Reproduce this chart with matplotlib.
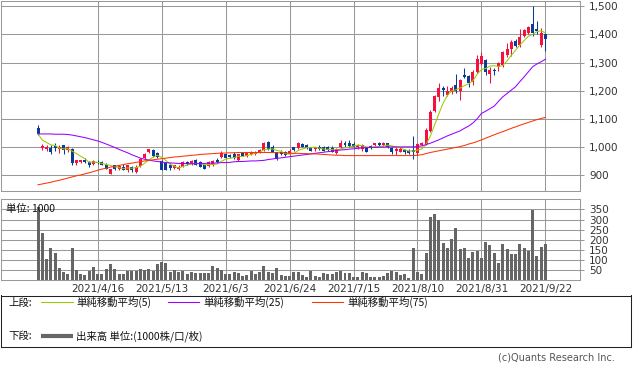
import matplotlib
matplotlib.use("Agg")
import matplotlib.pyplot as plt
import numpy as np
import pandas as pd
from matplotlib.ticker import FuncFormatter, FixedLocator

# ---------------- data ----------------
opens = [1067, 996, 994, 996, 1002, 993, 1005, 989, 993, 942,
         946, 954, 945, 939, 947, 947, 937, 905, 934, 922,
         930, 918, 928, 909, 933, 960, 982, 989, 978, 950,
         942, 934, 924, 922, 930, 947, 939, 954, 946, 935,
         933, 936, 952, 964, 973, 972, 976, 952, 978, 966,
         975, 975, 980, 989, 1018, 1001, 981, 983, 983, 975,
         998, 995, 1009, 1006, 998, 991, 1001, 999, 998, 996,
         978, 998, 1013, 1013, 1009, 999, 994, 996, 1004, 1006,
         1013, 1006, 1013, 996, 985, 983, 989, 987, 989, 978,
         1006, 1011, 1058, 1128, 1178, 1210, 1186, 1195, 1222, 1200,
         1255, 1252, 1232, 1267, 1296, 1308, 1261, 1273, 1285, 1291,
         1326, 1350, 1378, 1362, 1394, 1405, 1438, 1421, 1362, 1403]
highs = [1079, 1011, 1008, 1005, 1014, 1008, 1008, 1002, 996, 955,
         955, 961, 948, 952, 953, 950, 942, 923, 936, 935,
         940, 937, 933, 935, 959, 978, 994, 992, 982, 954,
         944, 942, 937, 934, 949, 949, 954, 956, 949, 937,
         948, 952, 961, 984, 976, 975, 980, 975, 980, 983,
         985, 985, 994, 1019, 1020, 1005, 983, 988, 987, 991,
         1001, 1017, 1013, 1009, 1001, 1001, 1005, 1003, 1002, 1004,
         995, 1025, 1020, 1025, 1019, 1011, 1011, 1001, 1007, 1015,
         1018, 1019, 1015, 1000, 1001, 1001, 992, 992, 1037, 1015,
         1016, 1066, 1131, 1183, 1226, 1217, 1215, 1218, 1260, 1242,
         1280, 1256, 1272, 1326, 1338, 1314, 1285, 1279, 1303, 1340,
         1370, 1382, 1384, 1420, 1420, 1430, 1500, 1448, 1424, 1405]
lows = [1041, 988, 987, 975, 987, 979, 976, 981, 937, 937,
        943, 942, 930, 936, 939, 935, 921, 902, 918, 916,
        916, 912, 909, 907, 930, 956, 978, 963, 960, 916,
        916, 918, 921, 916, 928, 937, 936, 935, 927, 921,
        930, 933, 942, 960, 959, 961, 957, 950, 966, 963,
        972, 972, 978, 987, 989, 980, 954, 972, 968, 970,
        986, 993, 998, 993, 984, 987, 990, 985, 986, 980,
        973, 995, 1001, 1001, 998, 994, 987, 980, 992, 1004,
        1004, 1004, 995, 973, 970, 980, 976, 975, 956, 972,
        1003, 1007, 1054, 1125, 1163, 1180, 1180, 1188, 1190, 1167,
        1245, 1214, 1222, 1264, 1290, 1255, 1228, 1255, 1270, 1284,
        1320, 1322, 1355, 1355, 1390, 1400, 1393, 1403, 1356, 1342]
closes = [1046, 1002, 999, 982, 996, 1001, 988, 999, 941, 952,
          953, 945, 934, 948, 943, 937, 923, 921, 921, 931,
          918, 934, 916, 930, 956, 974, 992, 966, 963, 918,
          918, 924, 934, 930, 946, 940, 951, 937, 930, 923,
          945, 949, 947, 978, 961, 963, 961, 973, 968, 981,
          982, 983, 989, 1015, 993, 983, 956, 975, 972, 987,
          989, 1013, 1001, 996, 987, 998, 994, 987, 989, 983,
          991, 1013, 1006, 1004, 1001, 1007, 1005, 983, 996, 1013,
          1008, 1015, 999, 982, 993, 994, 980, 978, 980, 1011,
          1013, 1060, 1125, 1180, 1208, 1203, 1198, 1210, 1198, 1238,
          1248, 1228, 1267, 1311, 1322, 1267, 1273, 1270, 1299, 1338,
          1350, 1373, 1360, 1391, 1417, 1427, 1405, 1411, 1405, 1383]
volume = [362, 236, 105, 159, 134, 61, 43, 31, 159, 49,
          31, 26, 47, 65, 31, 31, 56, 80, 56, 31,
          31, 47, 47, 47, 56, 51, 56, 47, 80, 92,
          87, 43, 49, 43, 47, 31, 43, 34, 34, 36,
          36, 72, 62, 49, 31, 33, 39, 36, 23, 25,
          46, 29, 43, 72, 43, 38, 62, 26, 21, 23,
          41, 41, 26, 18, 46, 23, 16, 36, 31, 31,
          41, 46, 36, 36, 18, 18, 41, 36, 18, 18,
          18, 23, 36, 46, 41, 26, 31, 11, 159, 41,
          31, 134, 311, 326, 296, 183, 159, 203, 257, 154,
          159, 110, 139, 144, 110, 188, 173, 134, 85, 178,
          154, 129, 129, 178, 159, 144, 349, 119, 164, 178]
ma25 = [1046, 1046, 1046, 1046, 1045, 1045, 1045, 1044, 1042, 1039,
        1036, 1033, 1029, 1025, 1021, 1016, 1010, 1004, 998, 991,
        985, 979, 972, 966, 960, 956, 953, 950, 948, 946,
        944, 943, 942, 941, 941, 940, 940, 940, 941, 941,
        942, 942, 943, 944, 944, 945, 947, 948, 948, 949,
        950, 950, 951, 952, 955, 957, 959, 961, 963, 965,
        967, 969, 971, 973, 975, 977, 979, 981, 983, 985,
        987, 989, 990, 992, 993, 995, 996, 997, 998, 998,
        999, 999, 1000, 1000, 1000, 1000, 1000, 1000, 1000, 1001,
        1004, 1008, 1013, 1019, 1025, 1032, 1039, 1045, 1051, 1057,
        1066, 1074, 1085, 1100, 1119, 1127, 1136, 1145, 1162, 1178,
        1190, 1202, 1214, 1232, 1249, 1267, 1285, 1295, 1303, 1312]
ma75 = [865, 868, 871, 874, 878, 881, 885, 889, 893, 897,
        900, 904, 908, 912, 917, 921, 924, 928, 931, 934,
        937, 940, 942, 945, 947, 950, 952, 954, 956, 958,
        960, 962, 964, 965, 967, 968, 970, 971, 973, 974,
        975, 976, 977, 978, 978, 979, 979, 980, 980, 980,
        980, 980, 980, 980, 980, 980, 979, 979, 978, 978,
        977, 977, 976, 976, 975, 975, 974, 973, 972, 971,
        970, 970, 969, 969, 969, 969, 969, 969, 969, 969,
        969, 969, 969, 969, 969, 969, 969, 969, 969, 970,
        972, 976, 980, 983, 986, 989, 992, 995, 998, 1001,
        1005, 1010, 1014, 1019, 1025, 1031, 1037, 1043, 1049, 1054,
        1060, 1066, 1071, 1077, 1082, 1087, 1092, 1097, 1101, 1105]
date_labels = ["2021/4/16", "2021/5/13", "2021/6/3", "2021/6/24",
               "2021/7/15", "2021/8/10", "2021/8/31", "2021/9/22"]
date_bar_index = [14, 29, 44, 59, 74, 89, 104, 119]
price_ticks = [900, 1000, 1100, 1200, 1300, 1400, 1500]
volume_ticks = [50, 100, 150, 200, 250, 300, 350]

# ---------------- styling ----------------
W, H = 633, 371
UP = "#f5113f"
DOWN = "#0a3a9a"
C_MA5 = "#99cc00"
C_MA25 = "#9900ff"
C_MA75 = "#ff3300"
GRID = "#999999"
TXT = "#333333"
CJK = ["Noto Sans CJK JP", "DejaVu Sans"]
FS = 7.5
LW = 0.75  # ~1 px

plt.rcParams['font.family'] = ['DejaVu Sans', 'Noto Sans CJK JP']

df = pd.DataFrame({"open": opens, "high": highs, "low": lows,
                   "close": closes, "volume": volume,
                   "ma25": ma25, "ma75": ma75})
df["ma5"] = df["close"].rolling(5, min_periods=1).mean()
x = np.arange(len(df))

fig = plt.figure(figsize=(W / 100, H / 100), dpi=100)
fig.patch.set_facecolor("white")

def fx(px):
    return px / W

def fy(py):
    return 1 - py / H

ax = fig.add_axes([fx(0.5), fy(190.7), fx(579), fy(0.5) - fy(190.7)])
axv = fig.add_axes([fx(0.5), fy(280.3), fx(579), fy(199.3) - fy(280.3)])

xlim = (-8.8, 127.0)
for a in (ax, axv):
    a.set_xlim(*xlim)
    for s in a.spines.values():
        s.set_color(GRID)
        s.set_linewidth(LW)
    a.xaxis.set_major_locator(FixedLocator(date_bar_index))
    a.grid(True, color=GRID, linewidth=LW)
    a.set_axisbelow(True)
    a.yaxis.tick_right()
    a.tick_params(axis="y", which="both", length=3, color=GRID, width=LW,
                  labelsize=FS, labelcolor=TXT, pad=4, left=False, right=True)

# ---- price panel ----
ax.set_ylim(844, 1521)
ax.yaxis.set_major_locator(FixedLocator(price_ticks))
ax.yaxis.set_major_formatter(FuncFormatter(lambda v, p: f"{v:,.0f}"))
ax.tick_params(axis="x", length=0, labelbottom=False)

up = df["close"] >= df["open"]
colors = np.where(up, UP, DOWN)
body_lo = np.minimum(df["open"], df["close"])
body_h = np.maximum(np.abs(df["close"] - df["open"]), 2.0)
ax.vlines(x, df["low"], df["high"], colors=colors, linewidth=LW, zorder=3)
ax.bar(x, body_h, bottom=body_lo, width=0.7, color=colors, linewidth=0, zorder=4)

ax.plot(x, df["ma5"], color=C_MA5, linewidth=LW, zorder=5)
ax.plot(x, df["ma25"], color=C_MA25, linewidth=LW, zorder=5)
ax.plot(x, df["ma75"], color=C_MA75, linewidth=LW, zorder=5)

# ---- volume panel ----
axv.set_ylim(0, 400)
axv.yaxis.set_major_locator(FixedLocator(volume_ticks))
axv.bar(x, df["volume"], width=0.7, color="#666666", linewidth=0, zorder=3)
axv.set_xticklabels(date_labels)
axv.tick_params(axis="x", length=0, labelsize=FS, labelcolor=TXT, pad=3)
axv.text(5 / 579, 350, "単位: 1000", transform=axv.get_yaxis_transform(),
         fontsize=FS, family=CJK, color="#111111", va="center", ha="left", zorder=6)

# ---- legend box ----
axl = fig.add_axes([fx(0.5), fy(347), fx(630.5), fy(295.5) - fy(347)])
axl.set_xlim(0, 630.5)
axl.set_ylim(347, 295.5)
axl.set_xticks([])
axl.set_yticks([])
for s in axl.spines.values():
    s.set_color("#222222")
    s.set_linewidth(LW)

row1, row2 = 302.5, 336
axl.text(8, row1, "上段:", fontsize=FS, family=CJK, va="center", ha="left", color="#111111")
items = [(40, 72, 76, C_MA5, "単純移動平均(5)"),
         (167, 198, 203, C_MA25, "単純移動平均(25)"),
         (311, 342, 347, C_MA75, "単純移動平均(75)")]
for x0, x1, xt, c, lab in items:
    axl.plot([x0, x1], [row1, row1], color=c, linewidth=LW)
    axl.text(xt, row1, lab, fontsize=FS, family=CJK, va="center", ha="left", color="#111111")
axl.text(8, row2, "下段:", fontsize=FS, family=CJK, va="center", ha="left", color="#111111")
axl.plot([40, 72], [row2, row2], color="#666666", linewidth=3.0, solid_capstyle="butt")
axl.text(76, row2, "出来高 単位:(1000株/口/枚)", fontsize=FS, family=CJK,
         va="center", ha="left", color="#111111")

fig.text(fx(615), fy(357), "(c)Quants Research Inc.", fontsize=FS - 0.5,
         color="#555555", ha="right", va="center")

fig.savefig("out.png", dpi=100, facecolor="white")
